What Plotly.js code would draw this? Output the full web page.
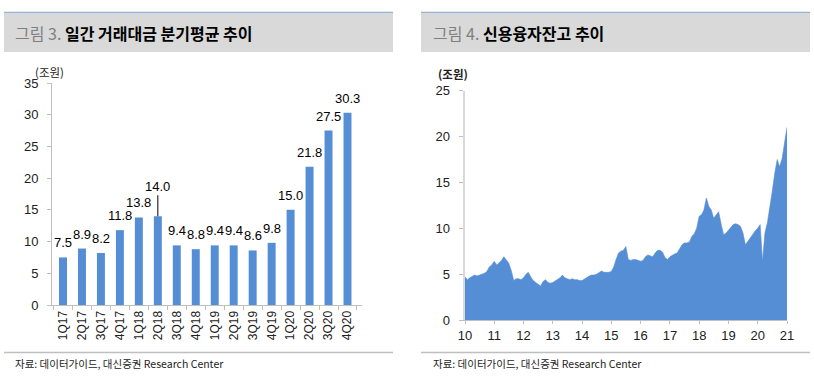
<!DOCTYPE html>
<html>
<head>
<meta charset="utf-8">
<script src="https://cdn.plot.ly/plotly-3.0.1.min.js"></script>
<style>
html,body{margin:0;padding:0;background:#fff;}
#chart{width:814px;height:382px;}
</style>
</head>
<body>
<div id="chart"></div>
<script>
// ---------- data: left panel (일간 거래대금 분기평균, 조원) ----------
const quarters = ['1Q17','2Q17','3Q17','4Q17','1Q18','2Q18','3Q18','4Q18','1Q19','2Q19','3Q19','4Q19','1Q20','2Q20','3Q20','4Q20'];
const tradingValue = [7.5, 8.9, 8.2, 11.8, 13.8, 14.0, 9.4, 8.8, 9.4, 9.4, 8.6, 9.8, 15.0, 21.8, 27.5, 30.3];
const leaderLabelQuarter = '2Q18';

// ---------- data: right panel (신용융자잔고, 조원), monthly readings ----------
const marginLoan2010 = [4.7, 4.4, 4.6, 4.8, 4.9, 4.8, 4.9, 5.0, 5.1, 5.3, 5.8, 6.0];
const marginLoan2011 = [6.4, 6.0, 6.2, 6.5, 6.9, 6.6, 6.2, 5.4, 4.3, 4.5, 4.5, 4.4];
const marginLoan2012 = [4.6, 5.0, 5.2, 4.7, 4.3, 4.1, 3.9, 3.7, 4.2, 4.4, 4.1, 4.0];
const marginLoan2013 = [4.1, 4.3, 4.4, 4.6, 4.9, 4.6, 4.5, 4.4, 4.5, 4.4, 4.4, 4.3];
const marginLoan2014 = [4.3, 4.5, 4.7, 4.8, 4.9, 4.9, 5.0, 5.2, 5.35, 5.2, 5.2, 5.2];
const marginLoan2015 = [5.3, 5.8, 6.6, 7.3, 7.5, 7.6, 8.0, 6.6, 6.5, 6.6, 6.6, 6.5];
const marginLoan2016 = [6.4, 6.5, 6.9, 7.1, 7.0, 6.9, 7.3, 7.6, 7.6, 7.4, 6.8, 6.6];
const marginLoan2017 = [6.9, 7.1, 7.2, 7.3, 7.8, 8.2, 8.4, 8.4, 8.5, 9.1, 9.4, 10.0];
const marginLoan2018 = [11.3, 11.5, 12.0, 13.3, 12.4, 12.0, 11.1, 11.4, 11.8, 10.5, 9.3, 9.45];
const marginLoan2019 = [9.8, 10.2, 10.4, 10.5, 10.4, 10.2, 9.5, 8.2, 8.6, 8.9, 9.3, 9.7];
const marginLoan2020 = [10.0, 10.4, 6.4, 9.5, 10.6, 12.2, 14.0, 16.0, 17.5, 16.7, 17.6, 19.3];
const marginLoan2021 = [21.0];
const yearAxisTicks = ['10','11','12','13','14','15','16','17','18','19','20','21'];

const marginYears = {2010: marginLoan2010, 2011: marginLoan2011, 2012: marginLoan2012, 2013: marginLoan2013,
  2014: marginLoan2014, 2015: marginLoan2015, 2016: marginLoan2016, 2017: marginLoan2017,
  2018: marginLoan2018, 2019: marginLoan2019, 2020: marginLoan2020, 2021: marginLoan2021};
const marginDates = [], marginValues = [];
Object.keys(marginYears).forEach(function (yr) {
  marginYears[yr].forEach(function (v, m) {
    marginDates.push(yr + '-' + String(m + 1).padStart(2, '0') + '-01');
    marginValues.push(v);
  });
});

// ---------- layout helpers (pixel -> paper) ----------
const W = 814, H = 382;
const px = x => x / W;
const py = y => 1 - y / H;

const BLUE = '#558ed5';
const FONT = 'Liberation Sans, Arial, Noto Sans CJK KR, sans-serif';
const KFONT = 'Noto Sans CJK KR, Liberation Sans, sans-serif';

const traces = [
  {
    type: 'bar', x: quarters, y: tradingValue, xaxis: 'x', yaxis: 'y',
    marker: {color: BLUE}, width: 0.42, hoverinfo: 'skip'
  },
  {
    type: 'scatter', mode: 'lines', x: marginDates, y: marginValues, xaxis: 'x2', yaxis: 'y2',
    fill: 'tozeroy', fillcolor: BLUE, line: {color: BLUE, width: 0.6}, hoverinfo: 'skip'
  }
];

const annotations = [];
// bar value labels
quarters.forEach(function (q, i) {
  if (q === leaderLabelQuarter) {
    annotations.push({
      xref: 'x', yref: 'y', x: q, y: tradingValue[i], text: tradingValue[i].toFixed(1),
      showarrow: true, arrowhead: 0, arrowwidth: 1, arrowcolor: '#000', ax: 0, ay: -30, standoff: 0,
      font: {family: FONT, size: 13, color: '#000'}
    });
  } else {
    annotations.push({
      xref: 'x', yref: 'y', x: q, y: tradingValue[i], text: tradingValue[i].toFixed(1),
      showarrow: false, yanchor: 'bottom', yshift: 5,
      font: {family: FONT, size: 13, color: '#000'}
    });
  }
});

// titles, units, sources
annotations.push(
  {xref: 'paper', yref: 'paper', x: px(13), y: py(33), xanchor: 'left', yanchor: 'middle', showarrow: false,
   text: '<span style="color:#7f7f7f">그림 3. </span><b>일간 거래대금 분기평균 추이</b>',
   font: {family: KFONT, size: 16, color: '#000'}},
  {xref: 'paper', yref: 'paper', x: px(431), y: py(33), xanchor: 'left', yanchor: 'middle', showarrow: false,
   text: '<span style="color:#7f7f7f">그림 4. </span><b>신용융자잔고 추이</b>',
   font: {family: KFONT, size: 16, color: '#000'}},
  {xref: 'paper', yref: 'paper', x: px(33), y: py(72), xanchor: 'left', yanchor: 'middle', showarrow: false,
   text: '(조원)', font: {family: KFONT, size: 11.5, color: '#222'}},
  {xref: 'paper', yref: 'paper', x: px(436), y: py(74), xanchor: 'left', yanchor: 'middle', showarrow: false,
   text: '<b>(조원)</b>', font: {family: KFONT, size: 11.5, color: '#222'}},
  {xref: 'paper', yref: 'paper', x: px(13), y: py(363), xanchor: 'left', yanchor: 'middle', showarrow: false,
   text: '자료: 데이터가이드, 대신증권 Research Center', font: {family: KFONT, size: 10.5, color: '#222'}},
  {xref: 'paper', yref: 'paper', x: px(431), y: py(363), xanchor: 'left', yanchor: 'middle', showarrow: false,
   text: '자료: 데이터가이드, 대신증권 Research Center', font: {family: KFONT, size: 10.5, color: '#222'}}
);

const shapes = [
  // title bars
  {type: 'rect', xref: 'paper', yref: 'paper', x0: px(4), x1: px(393), y0: py(52), y1: py(12.5), fillcolor: '#d9d9d9', line: {width: 0}},
  {type: 'rect', xref: 'paper', yref: 'paper', x0: px(421), x1: px(810), y0: py(52), y1: py(12.5), fillcolor: '#d9d9d9', line: {width: 0}},
  {type: 'line', xref: 'paper', yref: 'paper', x0: px(4), x1: px(393), y0: py(12.3), y1: py(12.3), line: {color: '#95b3d7', width: 1.2}},
  {type: 'line', xref: 'paper', yref: 'paper', x0: px(421), x1: px(810), y0: py(12.3), y1: py(12.3), line: {color: '#95b3d7', width: 1.2}},
  // footer rules
  {type: 'line', xref: 'paper', yref: 'paper', x0: px(4), x1: px(393), y0: py(352.5), y1: py(352.5), line: {color: '#bfbfbf', width: 1.5}},
  {type: 'line', xref: 'paper', yref: 'paper', x0: px(421), x1: px(810), y0: py(352.5), y1: py(352.5), line: {color: '#bfbfbf', width: 1.5}}
];

const tickFont = {family: FONT, size: 13, color: '#222'};

const layout = {
  width: W, height: H, autosize: false,
  margin: {l: 0, r: 0, t: 0, b: 0},
  paper_bgcolor: '#fff', plot_bgcolor: 'rgba(0,0,0,0)',
  showlegend: false, bargap: 0.58,
  xaxis: {
    domain: [px(52), px(362)], anchor: 'y', type: 'category',
    showline: true, linecolor: '#bfbfbf', linewidth: 1,
    ticks: 'outside', ticklen: 4, tickcolor: '#bfbfbf', tickson: 'boundaries',
    tickangle: -90, tickfont: {family: FONT, size: 12, color: '#222'},
    showgrid: false, zeroline: false, fixedrange: true
  },
  yaxis: {
    domain: [py(305), py(83)], anchor: 'x', range: [0, 35], dtick: 5,
    showline: true, linecolor: '#bfbfbf', linewidth: 1,
    ticks: 'outside', ticklen: 4, tickcolor: '#bfbfbf', ticklabelstandoff: 6,
    tickfont: tickFont, showgrid: false, zeroline: false, fixedrange: true
  },
  xaxis2: {
    domain: [px(465), px(787)], anchor: 'y2', type: 'date',
    range: ['2010-01-01', '2021-01-01'],
    tickvals: yearAxisTicks.map(t => '20' + t + '-01-01'), ticktext: yearAxisTicks,
    showline: true, linecolor: '#bfbfbf', linewidth: 1,
    ticks: 'outside', ticklen: 3, tickcolor: '#bfbfbf',
    tickfont: tickFont, showgrid: false, zeroline: false, fixedrange: true
  },
  yaxis2: {
    domain: [py(320), py(90.7)], anchor: 'x2', range: [0, 25], dtick: 5,
    showline: true, linecolor: '#d9d9d9', linewidth: 2.5,
    ticks: 'outside', ticklen: 4, tickcolor: '#bfbfbf', ticklabelstandoff: 6,
    tickfont: tickFont, showgrid: false, zeroline: false, fixedrange: true
  },
  annotations: annotations,
  shapes: shapes
};

Plotly.newPlot('chart', traces, layout, {staticPlot: true, displayModeBar: false});
</script>
</body>
</html>
